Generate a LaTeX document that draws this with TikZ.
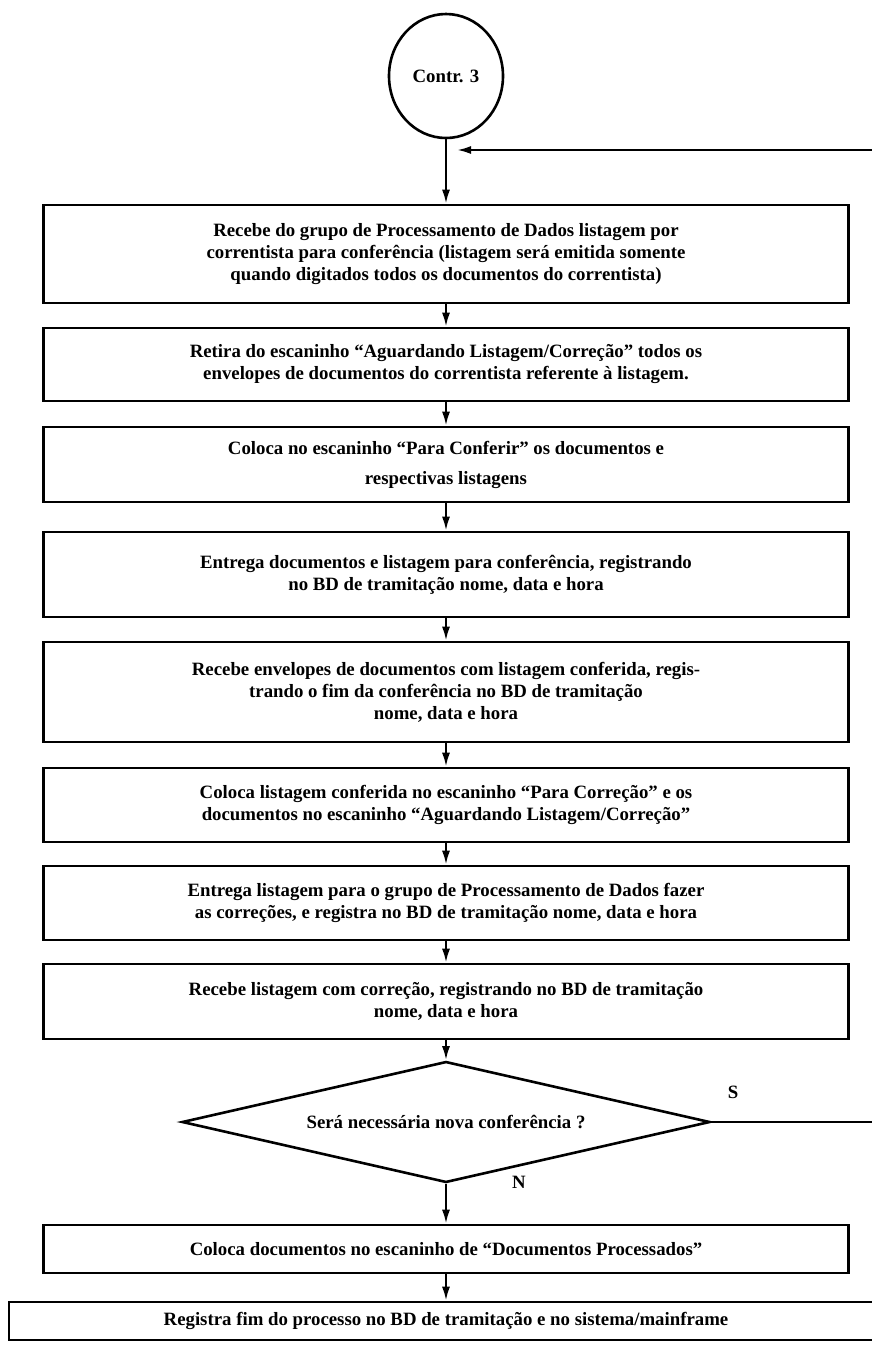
\documentclass[tikz,border=0pt]{standalone}
\usepackage{fontspec}
\setmainfont{Liberation Serif}
\usetikzlibrary{shapes.geometric,arrows.meta}

\tikzstyle{every node}=[font=\fontsize{9.4}{11}\selectfont\bfseries]
\tikzstyle{procbox}=[rectangle, draw, line width=1.3pt, minimum width=402.5pt, align=center, inner sep=0pt]
\tikzstyle{flow}=[line width=1.1pt, -{Latex[length=7pt,width=4pt]}]

\begin{document}
\begin{tikzpicture}[x=0.5pt, y=-0.5pt]
    \useasboundingbox (0,0) rectangle (872,1346);
    \clip (0,0) rectangle (872,1346);

    \path (446,76) node[ellipse, draw, line width=1.3pt, minimum width=57pt, minimum height=62pt] (cont) {Contr. 3};

    \path (446,254) node[procbox, minimum height=49pt] (p1)
      {Recebe do grupo de Processamento de Dados listagem por\\
       correntista para conferência (listagem será emitida somente\\
       quando digitados todos os documentos do correntista)};
    \path (446,364.5) node[procbox, minimum height=36.5pt] (p2)
      {Retira do escaninho ``Aguardando Listagem/Correção'' todos os\\
       envelopes de documentos do correntista referente à listagem.};
    \path (446,464.5) node[procbox, minimum height=37.5pt] (p3)
      {Coloca no escaninho ``Para Conferir'' os documentos e\\[4pt]
       respectivas listagens};
    \path (446,574.5) node[procbox, minimum height=42.5pt] (p4)
      {Entrega documentos e listagem para conferência, registrando\\
       no BD de tramitação nome, data e hora};
    \path (446,692) node[procbox, minimum height=50pt] (p5)
      {Recebe envelopes de documentos com listagem conferida, regis-\\
       trando o fim da conferência no BD de tramitação\\
       nome, data e hora};
    \path (446,805) node[procbox, minimum height=37pt] (p6)
      {Coloca listagem conferida no escaninho ``Para Correção'' e os\\
       documentos no escaninho ``Aguardando Listagem/Correção''};
    \path (446,903) node[procbox, minimum height=37pt] (p7)
      {Entrega listagem para o grupo de Processamento de Dados fazer\\
       as correções, e registra no BD de tramitação nome, data e hora};
    \path (446,1001.5) node[procbox, minimum height=37.5pt] (p8)
      {Recebe listagem com correção, registrando no BD de tramitação\\
       nome, data e hora};

    \path (446,1122) node[diamond, draw, line width=1.3pt, inner sep=0pt, aspect=4.36, minimum width=264pt, minimum height=60.5pt] (dec)
      {Será necessária nova conferência ?};

    \path (446,1249) node[procbox, minimum height=24pt] (p9)
      {Coloca documentos no escaninho de ``Documentos Processados''};
    \path (446,1321) node[procbox, minimum width=437pt, minimum height=19pt] (p10)
      {Registra fim do processo no BD de tramitação e no sistema/mainframe};

    \path (733,1092) node (yes) {S};
    \path (519,1182) node (no) {N};

    \coordinate (back) at (457,150);

    \foreach \a/\b in {cont/p1, p1/p2, p2/p3, p3/p4, p4/p5, p5/p6, p6/p7, p7/p8, p8/dec, dec/p9, p9/p10}
    {
      \draw[flow] (\a) -- (\b);
    }

    \draw[flow] (dec.east) -- (895,1122) |- (back);
\end{tikzpicture}
\end{document}
